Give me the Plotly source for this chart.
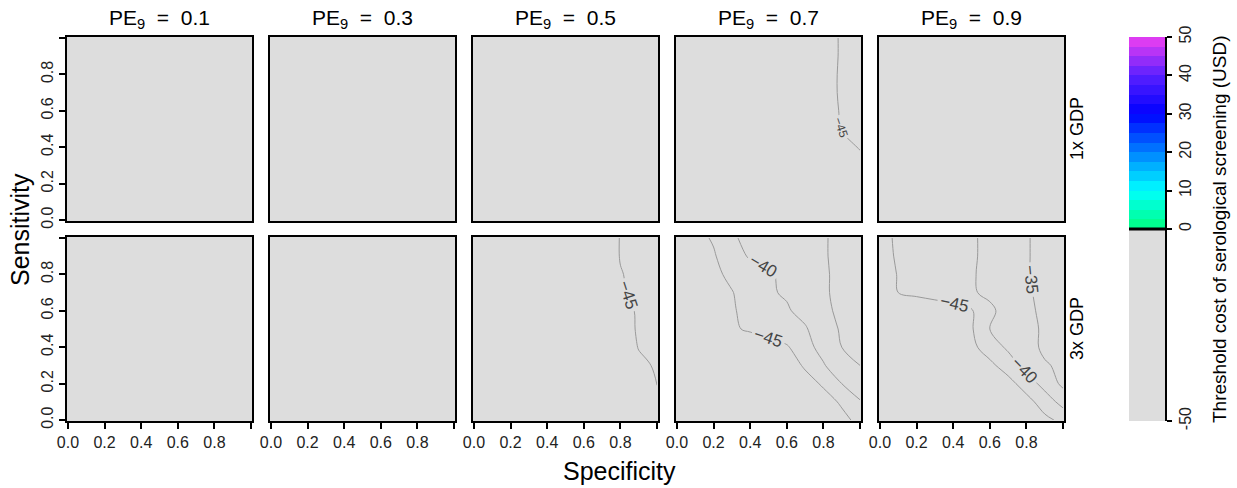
import plotly.graph_objects as go

W, H = 1237, 488
FONT = "Liberation Sans, Arial, sans-serif"

# ---------------- data ----------------
pe_values = ["0.1", "0.3", "0.5", "0.7", "0.9"]
gdp_labels = ["1x GDP", "3x GDP"]

specificity = [0.0, 0.1, 0.2, 0.3, 0.4, 0.5, 0.6, 0.7, 0.8, 0.9, 1.0]
sensitivity = [0.0, 0.1, 0.2, 0.3, 0.4, 0.5, 0.6, 0.7, 0.8, 0.9, 1.0]

# panels with the whole surface below the lowest contour level
specificity_flat = [0.0, 1.0]
sensitivity_flat = [0.0, 1.0]
z_flat = [[-50, -50],
          [-50, -50]]

# rows: sensitivity 0.0 -> 1.0 ; columns: specificity 0.0 -> 1.0
z_pe07_1x = [
    [-50, -50, -50, -50, -50, -50, -50, -50, -50, -50, -50],
    [-50, -50, -50, -50, -50, -50, -50, -50, -50, -50, -49.5],
    [-50, -50, -50, -50, -50, -50, -50, -50, -50, -49.5, -48.5],
    [-50, -50, -50, -50, -50, -50, -50, -50, -49, -47.5, -46],
    [-50, -50, -50, -50, -50, -50, -50, -50, -48, -46, -44.8],
    [-50, -50, -50, -50, -50, -50, -50, -49.5, -47.5, -44.8, -44.2],
    [-50, -50, -50, -50, -50, -50, -50, -49.5, -47, -44.6, -44],
    [-50, -50, -50, -50, -50, -50, -50, -49, -46.5, -44.5, -44],
    [-50, -50, -50, -50, -50, -50, -50, -49, -46.5, -44.5, -44],
    [-50, -50, -50, -50, -50, -50, -50, -49, -47, -44.5, -44],
    [-50, -50, -50, -50, -50, -50, -50, -49, -47, -44.5, -44],
]

z_pe05_3x = [
    [-50, -50, -50, -50, -50, -50, -50, -50, -50, -49.5, -48],
    [-50, -50, -50, -50, -50, -50, -50, -50, -50, -49, -47],
    [-50, -50, -50, -50, -50, -50, -50, -50, -49.5, -47.5, -44.8],
    [-50, -50, -50, -50, -50, -50, -50, -50, -49, -46, -44.5],
    [-50, -50, -50, -50, -50, -50, -50, -49.5, -48, -44.8, -44.5],
    [-50, -50, -50, -50, -50, -50, -50, -49, -47, -44.5, -44],
    [-50, -50, -50, -50, -50, -50, -49.5, -48.5, -46.5, -44.5, -44],
    [-50, -50, -50, -50, -50, -50, -49.5, -48.5, -45.5, -44, -43.5],
    [-50, -50, -50, -50, -50, -49.5, -49, -48, -45.2, -44, -43.5],
    [-50, -50, -50, -50, -50, -49.5, -49, -48, -44.8, -44, -43.5],
    [-50, -50, -50, -50, -50, -49.5, -49, -48, -44.8, -44, -43.5],
]

z_pe07_3x = [
    [-50, -50, -50, -50, -50, -50, -49.5, -49, -48, -46, -44],
    [-50, -50, -50, -50, -50, -49.5, -49, -48, -46.5, -44.5, -40.5],
    [-50, -50, -50, -50, -49.5, -49, -48, -46.5, -44.5, -40, -36],
    [-50, -50, -50, -49.5, -49, -48, -47, -44.5, -40.5, -36, -35],
    [-50, -50, -49.5, -48.5, -47.5, -46.5, -45.5, -42, -38, -35, -34.5],
    [-50, -49.5, -48, -45.5, -44.5, -43.5, -42, -40.5, -37, -34.5, -34],
    [-50, -49, -47.5, -45.5, -43.5, -42, -40.5, -38.5, -36, -34, -33.5],
    [-49.5, -48, -46.5, -45.2, -43, -40.5, -39.5, -38, -35.5, -34, -33.5],
    [-49, -47.5, -46, -44, -42, -40.5, -39, -37.5, -35.5, -34, -33],
    [-48.5, -47, -45.5, -42, -39.5, -39, -38.5, -37, -35.5, -33.5, -33],
    [-48, -46.5, -44.5, -40.5, -39, -38.5, -38, -37, -35.5, -33.5, -33],
]

z_pe09_3x = [
    [-50, -50, -50, -50, -50, -50, -50, -49.5, -48, -46, -44],
    [-50, -50, -50, -50, -50, -50, -49.5, -48.5, -46.5, -43, -38],
    [-50, -50, -50, -50, -50, -49.5, -48, -46.5, -43, -38, -34],
    [-50, -50, -50, -50, -49.5, -48, -46, -43, -38, -35.5, -34],
    [-50, -50, -50, -49.5, -48.5, -46, -43, -39, -37, -34, -33],
    [-50, -50, -49.5, -49, -47.5, -45.5, -40, -38, -36, -34.5, -33.5],
    [-50, -49, -48.5, -48, -47, -45.5, -41, -38, -36, -34, -33],
    [-48, -45, -44, -43, -42, -40.5, -39, -37, -35.5, -34, -33],
    [-47, -44.8, -43.5, -42.5, -41.5, -40.5, -38.5, -36.8, -35.5, -33, -32.5],
    [-46.5, -44.5, -43.5, -42.5, -41.5, -40.5, -39, -37, -35.5, -33, -32],
    [-46, -44.5, -43.5, -42.5, -41.5, -40.5, -39, -37, -35.5, -33, -32],
]

# colour key: band edges and band values (USD)
key_edges = [-50, 0, 2.5, 5, 7.5, 10, 12.5, 15, 17.5, 20, 22.5, 25, 27.5, 30,
             32.5, 35, 37.5, 40, 42.5, 45, 47.5, 50]
key_values = [-25, 1.25, 3.75, 6.25, 8.75, 11.25, 13.75, 16.25, 18.75, 21.25,
              23.75, 26.25, 28.75, 31.25, 33.75, 36.25, 38.75, 41.25, 43.75,
              46.25, 48.75]
key_ticks = [-50, 0, 10, 20, 30, 40, 50]

contour_levels = dict(start=-45, end=-35, size=5)

# ---------------- styling ----------------
GRAY = "#DDDDDD"
colorscale = [
    [0.0, GRAY], [0.5, GRAY],
    [0.5, "#00FF80"], [0.6, "#00FFFF"], [0.7, "#0080FF"],
    [0.8, "#0000FF"], [0.9, "#5A20FF"], [1.0, "#F040F0"],
]

col_left = [67, 270, 473, 676, 879]
panel_w = 185
row_top = [37, 237]
panel_h = 184


def px_x(p):
    return p / W


def px_y(p):
    return 1 - p / H


panels = {
    (0, 0): (specificity_flat, sensitivity_flat, z_flat),
    (0, 1): (specificity_flat, sensitivity_flat, z_flat),
    (0, 2): (specificity_flat, sensitivity_flat, z_flat),
    (0, 3): (specificity, sensitivity, z_pe07_1x),
    (0, 4): (specificity_flat, sensitivity_flat, z_flat),
    (1, 0): (specificity_flat, sensitivity_flat, z_flat),
    (1, 1): (specificity_flat, sensitivity_flat, z_flat),
    (1, 2): (specificity, sensitivity, z_pe05_3x),
    (1, 3): (specificity, sensitivity, z_pe07_3x),
    (1, 4): (specificity, sensitivity, z_pe09_3x),
}

fig = go.Figure()
layout = {}
tickvals = [0, 0.2, 0.4, 0.6, 0.8, 1.0]
ticktext = ["0.0", "0.2", "0.4", "0.6", "0.8", ""]
TICKFONT = dict(size=16, color="#222222", family=FONT)

for (r, c), (xs, ys, zz) in panels.items():
    k = r * 5 + c + 1
    xa = "x" if k == 1 else f"x{k}"
    ya = "y" if k == 1 else f"y{k}"
    fig.add_trace(go.Heatmap(
        x=xs, y=ys, z=zz, xaxis=xa, yaxis=ya,
        zmin=-50, zmax=50, colorscale=colorscale, showscale=False,
        hoverinfo="skip",
    ))
    label_size = 12 if (r, c) == (0, 3) else 17
    fig.add_trace(go.Contour(
        x=xs, y=ys, z=zz, xaxis=xa, yaxis=ya,
        autocontour=False, contours=dict(coloring="none", showlabels=True,
                                         labelfont=dict(size=label_size, color="#444444", family=FONT),
                                         **contour_levels),
        line=dict(color="#999999", width=1, smoothing=1.0),
        showscale=False, hoverinfo="skip",
    ))
    bottom = r == 1
    left = c == 0
    xkey = "xaxis" if k == 1 else f"xaxis{k}"
    ykey = "yaxis" if k == 1 else f"yaxis{k}"
    layout[xkey] = dict(
        domain=[px_x(col_left[c]), px_x(col_left[c] + panel_w)],
        anchor=ya, range=[-0.005, 1.005], automargin=False,
        showline=True, mirror=True, linecolor="black", linewidth=2,
        showgrid=False, zeroline=False,
        ticks="outside" if bottom else "", ticklen=6, tickwidth=1.5, tickcolor="black",
        tickvals=tickvals, ticktext=ticktext, showticklabels=bottom,
        tickfont=TICKFONT,
    )
    layout[ykey] = dict(
        domain=[px_y(row_top[r] + panel_h), px_y(row_top[r])],
        anchor=xa, range=[-0.005, 1.005], automargin=False,
        showline=True, mirror=True, linecolor="black", linewidth=2,
        showgrid=False, zeroline=False,
        ticks="outside" if left else "", ticklen=6, tickwidth=1.5, tickcolor="black",
        tickvals=tickvals, ticktext=ticktext, showticklabels=left,
        tickangle=-90, tickfont=TICKFONT,
    )

# colour key as its own small axis
fig.add_trace(go.Heatmap(
    x=[0, 1], y=key_edges, z=[[v] for v in key_values],
    xaxis="x11", yaxis="y11", zmin=-50, zmax=50,
    colorscale=colorscale, showscale=False, hoverinfo="skip",
))
layout["xaxis11"] = dict(domain=[px_x(1129), px_x(1165)], anchor="y11",
                         range=[0, 1], visible=False, automargin=False)
layout["yaxis11"] = dict(
    domain=[px_y(421), px_y(37)], anchor="x11", side="right",
    range=[-50, 50], showgrid=False, zeroline=False, automargin=False,
    showline=True, linecolor="black", linewidth=2,
    ticks="outside", ticklen=5, tickwidth=1.5, tickcolor="black",
    tickvals=key_ticks, ticktext=[str(t) for t in key_ticks], tickangle=-90,
    tickfont=TICKFONT,
)

annotations = []
for c, pe in enumerate(pe_values):
    annotations.append(dict(
        text=f"PE<sub>9</sub>  =  {pe}", x=px_x(col_left[c] + panel_w / 2), y=px_y(19),
        xref="paper", yref="paper", showarrow=False, xanchor="center", yanchor="middle",
        font=dict(size=21, color="black", family=FONT),
    ))
for r, g in enumerate(gdp_labels):
    annotations.append(dict(
        text=g, x=px_x(1077), y=px_y(row_top[r] + panel_h / 2),
        xref="paper", yref="paper", showarrow=False, textangle=-90,
        xanchor="center", yanchor="middle",
        font=dict(size=18, color="black", family=FONT),
    ))
annotations.append(dict(
    text="Specificity", x=px_x(619), y=px_y(471), xref="paper", yref="paper",
    showarrow=False, xanchor="center", yanchor="middle",
    font=dict(size=25, color="black", family=FONT),
))
annotations.append(dict(
    text="Sensitivity", x=px_x(20), y=px_y(230), xref="paper", yref="paper",
    showarrow=False, textangle=-90, xanchor="center", yanchor="middle",
    font=dict(size=25, color="black", family=FONT),
))
annotations.append(dict(
    text="Threshold cost of serological screening (USD)", x=px_x(1220), y=px_y(229),
    xref="paper", yref="paper", showarrow=False, textangle=-90,
    xanchor="center", yanchor="middle",
    font=dict(size=19, color="black", family=FONT),
))

shapes = [dict(type="line", xref="x11 domain", yref="y11", x0=0, x1=1.05, y0=0, y1=0,
               line=dict(color="black", width=3))]

fig.update_layout(
    width=W, height=H, margin=dict(l=0, r=0, t=0, b=0, autoexpand=False),
    paper_bgcolor="white", plot_bgcolor="white",
    showlegend=False, annotations=annotations, shapes=shapes,
    font=dict(family=FONT),
    **layout,
)

fig.write_html("out.html", config={"displayModeBar": False},
               post_script="document.body.style.margin='0';document.body.style.overflow='hidden';")
